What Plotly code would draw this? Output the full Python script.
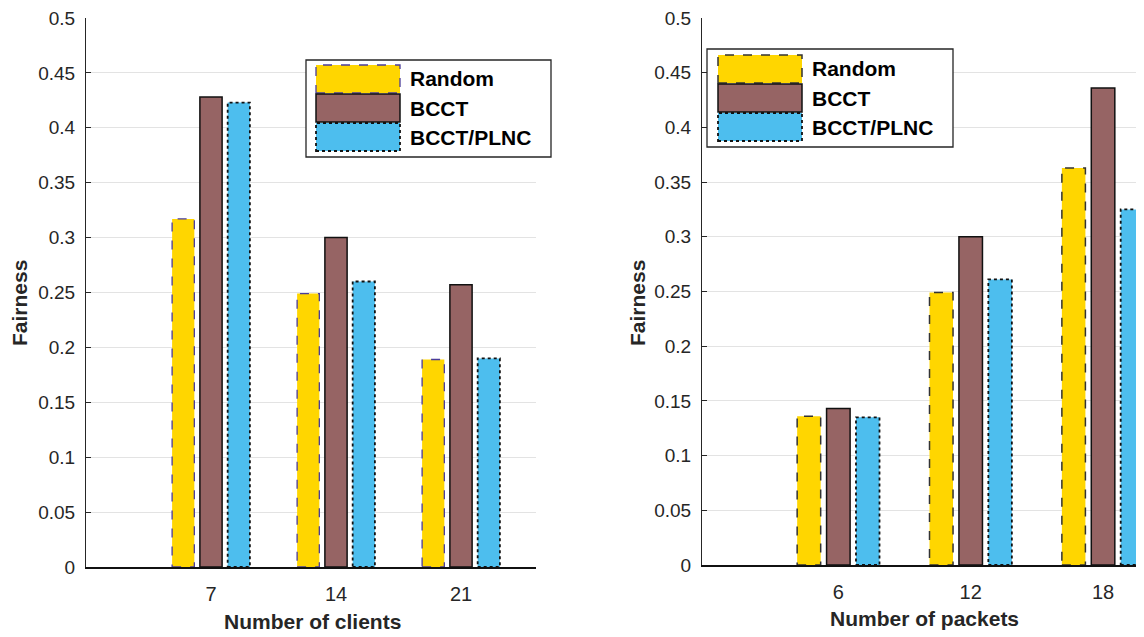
import plotly.graph_objects as go

# figure size in px (browser window)
W, H = 1144, 637
PAD = 8  # page body margin: figure is drawn 8px in from the window corner

# ---- data -------------------------------------------------------------
series = ["Random", "BCCT", "BCCT/PLNC"]
colors = ["#FFD600", "#966464", "#4DBEEE"]

clients = ["7", "14", "21"]
random_clients = [0.317, 0.249, 0.189]
bcct_clients = [0.428, 0.300, 0.257]
plnc_clients = [0.423, 0.260, 0.190]

packets = ["6", "12", "18"]
random_packets = [0.136, 0.249, 0.363]
bcct_packets = [0.143, 0.300, 0.436]
plnc_packets = [0.135, 0.261, 0.325]

y_ticks = [0, 0.05, 0.1, 0.15, 0.2, 0.25, 0.3, 0.35, 0.4, 0.45, 0.5]

# grouped bar geometry (matlab style: 3 bars per group)
STEP = 2 / 9
BAR_W = 0.8 * STEP

FONT = "Liberation Sans, Arial, Helvetica, sans-serif"
TXT = "#262626"


def px_x(p):
    return (p - PAD) / W


def px_y(p):
    return 1 - (p - PAD) / H


# outline styles per series, per panel
left_lines = [dict(color="#4A3C9A", width=1.3, dash="dash"),
              dict(color="#111111", width=1.5, dash="solid"),
              dict(color="#111111", width=1.8, dash="dot")]
right_lines = [dict(color="#333333", width=1.5, dash="dash"),
               dict(color="#111111", width=1.5, dash="solid"),
               dict(color="#111111", width=1.8, dash="dot")]

fig = go.Figure()
shapes = []
annotations = []

panels = [
    ("x", "y", clients, [random_clients, bcct_clients, plnc_clients], left_lines),
    ("x2", "y2", packets, [random_packets, bcct_packets, plnc_packets], right_lines),
]

for xa, ya, cats, vals_list, lines in panels:
    pos = list(range(1, len(cats) + 1))
    for k, (name, col, vals) in enumerate(zip(series, colors, vals_list)):
        off = (k - 1) * STEP - BAR_W / 2
        fig.add_trace(go.Bar(
            x=pos, y=vals, name=name, width=BAR_W, offset=off,
            marker=dict(color=col, line=dict(width=0)),
            xaxis=xa, yaxis=ya, showlegend=False,
        ))
        # dashed outlines (bar marker lines cannot be dashed)
        for p, v in zip(pos, vals):
            shapes.append(dict(type="rect", xref=xa, yref=ya,
                               x0=p + off, x1=p + off + BAR_W, y0=0, y1=v,
                               line=lines[k], fillcolor="rgba(0,0,0,0)"))


# ---- custom legends (big swatches like the original) -----------------
def add_legend(box, sw_x, rows, text_x, lines):
    shapes.append(dict(type="rect", xref="paper", yref="paper",
                       x0=px_x(box[0]), x1=px_x(box[1]),
                       y0=px_y(box[3]), y1=px_y(box[2]),
                       line=dict(color=TXT, width=1.3), fillcolor="white"))
    for k, (name, col) in enumerate(zip(series, colors)):
        top, bot = rows[k]
        shapes.append(dict(type="rect", xref="paper", yref="paper",
                           x0=px_x(sw_x[0]), x1=px_x(sw_x[1]),
                           y0=px_y(bot), y1=px_y(top),
                           line=lines[k], fillcolor=col))
        annotations.append(dict(text=f"<b>{name}</b>", xref="paper", yref="paper",
                                x=px_x(text_x), y=px_y((top + bot) / 2),
                                xanchor="left", yanchor="middle", showarrow=False,
                                font=dict(family=FONT, size=21, color="black")))


add_legend((306, 551, 60, 157), (316, 400), [(65, 93), (94, 122), (123, 151)], 408, left_lines)
add_legend((707, 953, 49, 147), (718, 802), [(55, 83), (84, 112), (113, 141)], 810, right_lines)

# ---- axis titles ------------------------------------------------------
for txt, x, y, ang in [("Number of clients", 312, 621, 0),
                       ("Number of packets", 924, 618, 0),
                       ("Fairness", 19, 303, -90),
                       ("Fairness", 637, 303, -90)]:
    annotations.append(dict(text=f"<b>{txt}</b>", xref="paper", yref="paper",
                            x=px_x(x), y=px_y(y), xanchor="center", yanchor="middle",
                            textangle=ang, showarrow=False,
                            font=dict(family=FONT, size=21, color=TXT)))

xcommon = dict(showgrid=False, zeroline=False, showline=True, linecolor="#111111",
               linewidth=1.5, ticks="", tickfont=dict(family=FONT, size=20, color=TXT),
               ticklabelstandoff=8, automargin=False, fixedrange=True)
ycommon = dict(range=[0, 0.5], tickvals=y_ticks, ticktext=[f"{t:g}" for t in y_ticks],
               showgrid=True, gridcolor="#E3E3E3", gridwidth=1, zeroline=False,
               showline=True, linecolor=TXT, linewidth=1, ticks="inside", ticklen=5,
               tickcolor=TXT, tickfont=dict(family=FONT, size=19, color=TXT),
               ticklabelstandoff=6, ticklabeloverflow="allow",
               automargin=False, fixedrange=True)

TOP = 18  # top of the plot areas (page px)

fig.update_layout(
    width=W, height=H,
    margin=dict(l=0, r=0, t=0, b=0),
    paper_bgcolor="white", plot_bgcolor="white",
    barmode="overlay",
    showlegend=False,
    xaxis=dict(xcommon, domain=[px_x(86), px_x(536)], range=[0, 3.6],
               tickvals=[1, 2, 3], ticktext=clients, anchor="y"),
    yaxis=dict(ycommon, domain=[px_y(567), px_y(TOP)], anchor="x"),
    xaxis2=dict(xcommon, domain=[px_x(702), 1],
                range=[-0.03, 1 + (W + PAD - 838) / 132.5],
                tickvals=[1, 2, 3], ticktext=packets, anchor="y2"),
    yaxis2=dict(ycommon, domain=[px_y(565), px_y(TOP)], anchor="x2"),
    shapes=shapes,
    annotations=annotations,
)

fig.write_html("out.html")
